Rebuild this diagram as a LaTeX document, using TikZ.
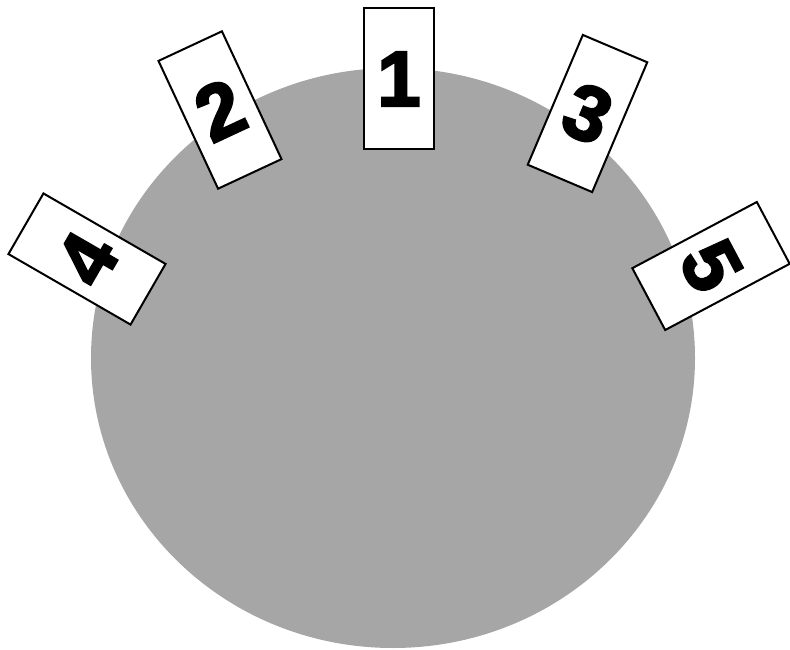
\documentclass[tikz,border=0pt]{standalone}
\usepackage{fontspec}
\newfontfamily\cardfont{Liberation Sans Bold}[FakeBold=3]
\definecolor{tablegray}{HTML}{A6A6A6}
\tikzset{
    cardnode/.style={
        draw=black,
        fill=white,
        line width=2pt,
        inner sep=0pt,
        minimum width=70pt,
        minimum height=141pt,
        font=\cardfont\fontsize{78}{80}\selectfont
    },
    tablenode/.style={
        ellipse,
        fill=tablegray,
        inner sep=0pt,
        minimum width=604pt,
        minimum height=580pt
    }
}
\usetikzlibrary{shapes.geometric}
\begin{document}
\begin{tikzpicture}[x=1pt,y=1pt]
        \useasboundingbox (0,0) rectangle (790,649);
        \node[tablenode] (table) at (393,291) {};

        \node[cardnode] (card1) at (399,570) {1};
        \node[cardnode,rotate=25] (card2) at (220,539) {2};
        \node[cardnode,rotate=-23] (card3) at (587.5,535.5) {3};
        \node[cardnode,rotate=60] (card4) at (87,390) {4};
        \node[cardnode,rotate=-62] (card5) at (711,383) {5};
    \end{tikzpicture}
\end{document}
